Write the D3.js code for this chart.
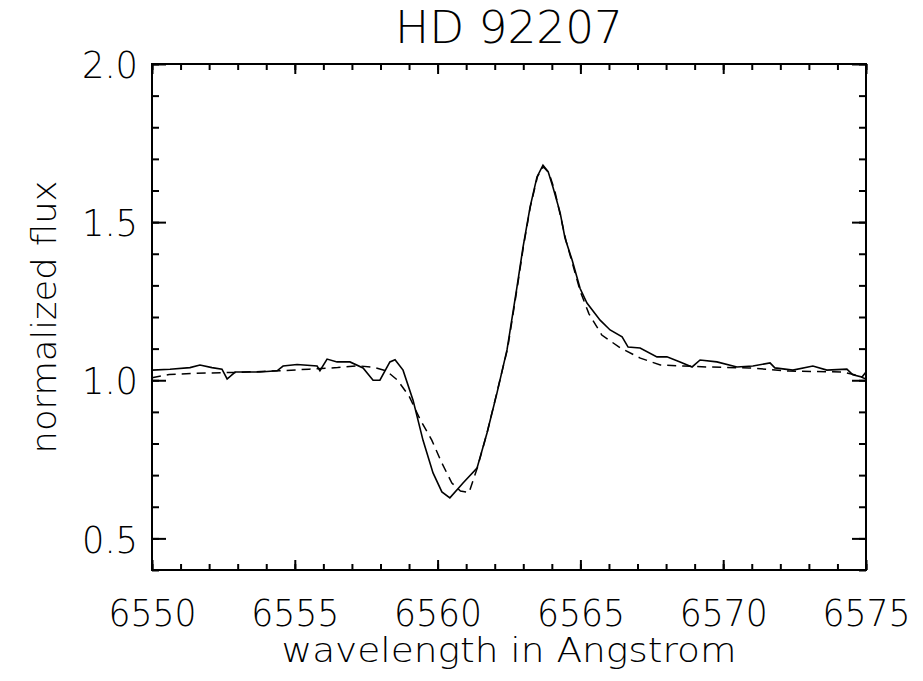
<!DOCTYPE html>
<html><head><meta charset="utf-8">
<script src="https://cdn.jsdelivr.net/npm/d3@7"></script>
<style>
body{margin:0;background:#fff}
text{font-family:"DejaVu Sans","Lato",sans-serif;font-weight:200;fill:#000}
</style>
</head><body>
<svg id="c" width="923" height="681"></svg>
<script>
const obsWave = [6550.00,6550.63,6551.33,6551.68,6552.10,6552.45,6552.63,6552.91,6553.78,6554.38,6554.59,6555.08,6555.78,6555.88,6556.13,6556.48,6556.93,6557.39,6557.74,6557.98,6558.33,6558.51,6558.79,6559.14,6559.49,6559.84,6560.15,6560.43,6560.89,6561.38,6561.73,6562.08,6562.43,6562.78,6562.99,6563.24,6563.48,6563.69,6563.87,6564.04,6564.29,6564.46,6564.71,6564.99,6565.23,6565.69,6566.04,6566.46,6566.67,6567.09,6567.68,6568.03,6568.49,6568.91,6569.19,6569.78,6570.48,6571.04,6571.64,6571.81,6572.44,6573.14,6573.63,6574.33,6574.54,6574.86,6575.00];
const obsFlux = [1.032,1.035,1.040,1.048,1.040,1.035,1.004,1.026,1.026,1.030,1.045,1.050,1.045,1.030,1.067,1.058,1.058,1.039,1.000,1.000,1.058,1.065,1.032,0.937,0.810,0.707,0.647,0.628,0.675,0.722,0.833,0.960,1.096,1.295,1.420,1.548,1.643,1.680,1.660,1.610,1.530,1.450,1.380,1.290,1.244,1.190,1.159,1.137,1.105,1.102,1.074,1.074,1.058,1.042,1.064,1.058,1.042,1.045,1.055,1.039,1.032,1.045,1.032,1.035,1.017,1.010,1.026];
const modelWave = [6550.0,6550.6,6551.5,6553.0,6554.5,6555.5,6556.5,6557.2,6557.8,6558.2,6558.6,6559.0,6559.4,6559.8,6560.15,6560.5,6560.8,6561.1,6561.4,6561.75,6562.1,6562.45,6562.8,6563.0,6563.25,6563.5,6563.7,6563.9,6564.1,6564.3,6564.5,6564.75,6565.0,6565.3,6565.75,6566.4,6567.1,6567.8,6568.6,6569.4,6570.9,6572.3,6574.2,6574.7,6575.0];
const modelFlux = [1.008,1.018,1.022,1.025,1.030,1.035,1.040,1.046,1.040,1.030,1.000,0.950,0.874,0.810,0.738,0.675,0.650,0.645,0.726,0.840,0.970,1.100,1.300,1.420,1.550,1.645,1.675,1.655,1.600,1.520,1.440,1.360,1.280,1.210,1.143,1.102,1.070,1.048,1.045,1.042,1.039,1.029,1.026,1.015,1.004];
const xMajor = [6550,6555,6560,6565,6570,6575];
const yMajor = [0.5,1.0,1.5,2.0];
const title = "HD 92207";
const xLabel = "wavelength in Angstrom";
const yLabel = "normalized flux";

const svg = d3.select("#c");
const L=152,R=866,T=64,B=570;
const x = d3.scaleLinear().domain([6550,6575]).range([L,R]);
const y = d3.scaleLinear().domain([0.4,2.0]).range([B,T]);
const xMinor = d3.range(6550,6576,1);
const yMinor = d3.range(4,21).map(d=>d/10);

function styleAxis(g){ g.select(".domain").remove(); g.selectAll(".tick line").attr("stroke","#000").attr("stroke-width",2); }

// bottom
svg.append("g").attr("transform",`translate(0,${B})`).call(d3.axisBottom(x).tickValues(xMinor).tickSize(-6).tickFormat("")).call(styleAxis);
const gb = svg.append("g").attr("transform",`translate(0,${B})`).call(d3.axisBottom(x).tickValues(xMajor).tickSize(-10).tickFormat(d3.format("d"))).call(styleAxis);
gb.selectAll("text").attr("y",56).attr("dy",0).attr("font-size",38).attr("fill","#000").style("font-family",'"DejaVu Sans",sans-serif')
  .attr("textLength",88).attr("lengthAdjust","spacingAndGlyphs");
// top
svg.append("g").attr("transform",`translate(0,${T})`).call(d3.axisTop(x).tickValues(xMinor).tickSize(-6).tickFormat("")).call(styleAxis);
svg.append("g").attr("transform",`translate(0,${T})`).call(d3.axisTop(x).tickValues(xMajor).tickSize(-10).tickFormat("")).call(styleAxis);
// left
svg.append("g").attr("transform",`translate(${L},0)`).call(d3.axisLeft(y).tickValues(yMinor).tickSize(-7).tickFormat("")).call(styleAxis);
const gl = svg.append("g").attr("transform",`translate(${L},0)`).call(d3.axisLeft(y).tickValues(yMajor).tickSize(-14).tickFormat(d3.format(".1f"))).call(styleAxis);
gl.selectAll("text").attr("x",-14).attr("dy","0.36em").attr("font-size",38).attr("fill","#000").style("font-family",'"DejaVu Sans",sans-serif')
  .attr("textLength",56).attr("lengthAdjust","spacingAndGlyphs");
// right
svg.append("g").attr("transform",`translate(${R},0)`).call(d3.axisRight(y).tickValues(yMinor).tickSize(-7).tickFormat("")).call(styleAxis);
svg.append("g").attr("transform",`translate(${R},0)`).call(d3.axisRight(y).tickValues(yMajor).tickSize(-14).tickFormat("")).call(styleAxis);

// frame
svg.append("rect").attr("x",L).attr("y",T).attr("width",R-L).attr("height",B-T).attr("fill","none").attr("stroke","#000").attr("stroke-width",2);

const line = d3.line().x(d=>x(d[0])).y(d=>y(d[1]));
svg.append("path").datum(modelWave.map((w,i)=>[w,modelFlux[i]])).attr("d",line).attr("fill","none").attr("stroke","#000").attr("stroke-width",1.5).attr("stroke-dasharray","9,6");
svg.append("path").datum(obsWave.map((w,i)=>[w,obsFlux[i]])).attr("d",line).attr("fill","none").attr("stroke","#000").attr("stroke-width",1.6);

svg.append("text").attr("x",(L+R)/2).attr("y",43).attr("text-anchor","middle").attr("font-size",44).text(title)
  .attr("textLength",228).attr("lengthAdjust","spacingAndGlyphs");
svg.append("text").attr("x",(L+R)/2).attr("y",662).attr("text-anchor","middle").attr("font-size",33).text(xLabel)
  .attr("textLength",455).attr("lengthAdjust","spacingAndGlyphs");
svg.append("text").attr("transform",`translate(56,${(T+B)/2}) rotate(-90)`).attr("text-anchor","middle").attr("font-size",34).text(yLabel)
  .attr("textLength",273).attr("lengthAdjust","spacingAndGlyphs");
</script>
</body></html>
